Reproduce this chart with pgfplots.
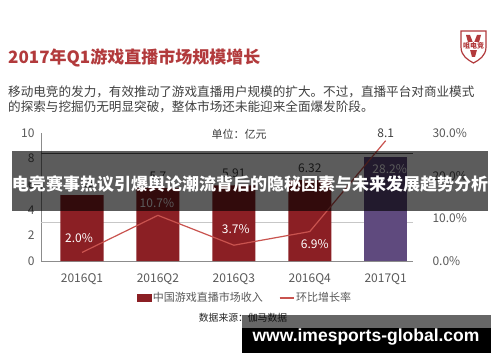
\documentclass[border=0pt]{standalone}
\usepackage{pgfplots}
\pgfplotsset{compat=1.18}
\usepackage{fontspec}
\setmainfont{Noto Sans CJK SC}
\newfontfamily\urlfont{Liberation Sans}
\definecolor{barred}{HTML}{8B1F24}
\definecolor{barpurple}{HTML}{5F4A7E}
\definecolor{linered}{HTML}{C9534F}
\definecolor{titlered}{HTML}{B23A3C}
\definecolor{txtgray}{HTML}{595959}
\definecolor{valgray}{HTML}{404040}
\begin{document}
\begin{tikzpicture}[x=1pt,y=1pt]
\path[use as bounding box, fill=white] (0,0) rectangle (500,362);
% title and subtitle
\node[anchor=west, inner sep=0, text=titlered, font=\fontsize{17}{20}\selectfont\bfseries] at (8,304) {2017年Q1游戏直播市场规模增长};
\node[anchor=west, inner sep=0, text=valgray, font=\fontsize{12.6}{15}\selectfont] at (8,270) {移动电竞的发力，有效推动了游戏直播用户规模的扩大。不过，直播平台对商业模式};
\node[anchor=west, inner sep=0, text=valgray, font=\fontsize{12.6}{15}\selectfont] at (8,255) {的探索与挖掘仍无明显突破，整体市场还未能迎来全面爆发阶段。};
% logo
\draw[titlered, line width=1.2pt, fill=white] (461,331) -- (486,331) -- (486,315) .. controls (486,306) and (479,302) .. (473.5,299) .. controls (468,302) and (461,306) .. (461,315) -- cycle;
\fill[titlered] (466,327) -- (470,327) -- (473.5,318) -- (477,327) -- (481,327) -- (475,305) -- (472,305) -- cycle;
\node[fill=white, inner sep=0.5pt, text=titlered, font=\fontsize{7}{8}\selectfont\bfseries] at (473.5,316) {咀电竞};
% unit
\node[text=valgray, font=\fontsize{11}{13}\selectfont] at (239,228) {单位：亿元};
% left axis with bars
\begin{axis}[at={(82pt,101pt)}, anchor=origin, scale only axis,
  width=372pt, height=128pt,
  xmin=-0.54, xmax=4.36, ymin=0, ymax=10,
  ytick={0,2,...,10}, xtick={0,...,4},
  xticklabels={2016Q1,2016Q2,2016Q3,2016Q4,2017Q1},
  axis x line*=bottom, axis y line*=left,
  axis line style={draw=black!45, line width=0.8pt},
  major tick length=0pt,
  tick label style={font=\fontsize{12}{14}\selectfont, text=txtgray},
  xticklabel style={yshift=-9pt},
  yticklabel style={xshift=-3pt},
  /pgf/number format/assume math mode=true,
  clip=false]
\addplot[black!22, line width=1pt, mark=none] coordinates {(-0.54,2.97) (4.36,2.97)};
\addplot[black!65, line width=1pt, mark=none] coordinates {(-0.54,8.37) (4.36,8.37)};
\addplot[ybar, bar width=43pt, bar shift=0pt, fill=barred, draw=none,
  nodes near coords,
  nodes near coords style={font=\fontsize{12}{14}\selectfont, text=valgray, yshift=4pt}]
  coordinates {(0,5.15) (1,5.7) (2,5.91) (3,6.32)};
\addplot[ybar, bar width=43pt, bar shift=0pt, fill=barpurple, draw=none]
  coordinates {(4,8.1)};
\node[font=\fontsize{12}{14}\selectfont, text=valgray] at (axis cs:4,10) {8.1};
\end{axis}
% right axis with growth line
\begin{axis}[at={(82pt,101pt)}, anchor=origin, scale only axis,
  width=372pt, height=128pt,
  xmin=-0.54, xmax=4.36, ymin=0, ymax=30,
  axis x line=none, axis y line*=right,
  y axis line style={draw=none},
  ytick={0,10,20,30},
  yticklabels={0.0\%,10.0\%,20.0\%,30.0\%},
  major tick length=0pt,
  yticklabel style={anchor=west, xshift=16pt, font=\fontsize{12}{14}\selectfont, text=txtgray},
  clip=false,
  legend columns=2,
  legend style={at={(0.548,-0.289)}, anchor=center, draw=none, fill=none,
    font=\fontsize{11}{13}\selectfont, text=txtgray,
    /tikz/every even column/.append style={column sep=14pt}},
  legend cell align=left]
\addlegendimage{legend image code/.code={\fill[barred] (0pt,-3.5pt) rectangle (14pt,3.5pt);}}
\addlegendentry{中国游戏直播市场收入}
\addplot[linered, line width=1.2pt, mark=none,
  legend image code/.code={\draw[linered, line width=1.2pt] (0pt,0pt) -- (14pt,0pt);}]
  coordinates {(0,2.0) (1,10.7) (2,3.7) (3,6.9) (4,28.2)};
\addlegendentry{环比增长率}
\node[text=white, font=\fontsize{12}{14}\selectfont, xshift=-3pt] at (axis cs:0,5.4) {2.0\%};
\node[text=white, font=\fontsize{12}{14}\selectfont, xshift=-1pt] at (axis cs:1,13.6) {10.7\%};
\node[text=white, font=\fontsize{12}{14}\selectfont, xshift=2pt] at (axis cs:2,7.5) {3.7\%};
\node[text=white, font=\fontsize{12}{14}\selectfont, xshift=5pt] at (axis cs:3,4.0) {6.9\%};
\node[text=white, font=\fontsize{12}{14}\selectfont, xshift=4pt] at (axis cs:4,21.6) {28.2\%};
\end{axis}
% source
\node[text=black!85, font=\fontsize{9.8}{12}\selectfont] at (243,44) {数据来源：伽马数据};
% overlay banner
\fill[black, opacity=0.64] (12,151) rectangle (488,211);
\node[text=white, font=\fontsize{17}{20}\selectfont\bfseries] at (250,178) {电竞赛事热议引爆舆论潮流背后的隐秘因素与未来发展趋势分析};
% bottom banner
\fill[black, opacity=0.6] (242,34) rectangle (491,47);
\fill[black] (242,9) rectangle (491,34);
\node[text=white, font=\urlfont\fontsize{17.5}{20}\selectfont\bfseries] at (366,25) {www.imesports-global.com};
\end{tikzpicture}
\end{document}
